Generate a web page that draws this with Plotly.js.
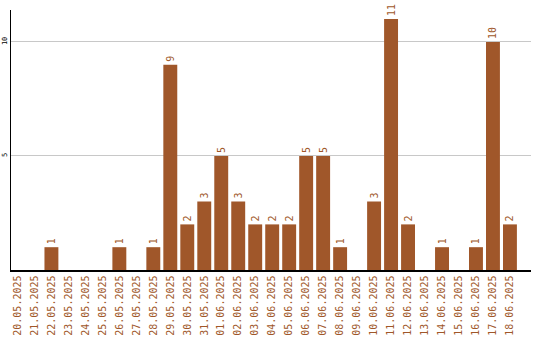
<!DOCTYPE html>
<html><head><meta charset="utf-8">
<script src="https://cdn.plot.ly/plotly-3.0.1.min.js"></script>
<style>html,body{margin:0;padding:0;background:#fff}#chart{width:540px;height:340px}</style>
</head><body><div id="chart"></div>
<script>
const dates = ["20.05.2025","21.05.2025","22.05.2025","23.05.2025","24.05.2025","25.05.2025","26.05.2025","27.05.2025","28.05.2025","29.05.2025","30.05.2025","31.05.2025","01.06.2025","02.06.2025","03.06.2025","04.06.2025","05.06.2025","06.06.2025","07.06.2025","08.06.2025","09.06.2025","10.06.2025","11.06.2025","12.06.2025","13.06.2025","14.06.2025","15.06.2025","16.06.2025","17.06.2025","18.06.2025"];
const counts = [0,0,1,0,0,0,1,0,1,9,2,3,5,3,2,2,2,5,5,1,0,3,11,2,0,1,0,1,10,2];
const yTicks = [5,10];
const color = "#a0572a";
const idx = dates.map((d,i)=>i);
Plotly.newPlot("chart",[{
  type:"bar", x:idx, y:counts,
  text: counts.map(v=>v>0?String(v):""),
  textposition:"outside", textangle:-90, cliponaxis:false,
  textfont:{family:"DejaVu Sans Mono", size:10, color:color},
  marker:{color:color}, hoverinfo:"none"
}],{
  width:540, height:340,
  margin:{l:11,r:9,t:10,b:70,pad:0},
  paper_bgcolor:"#fff", plot_bgcolor:"#fff",
  bargap:0.18, showlegend:false,
  font:{family:"DejaVu Sans Mono"},
  xaxis:{type:"linear", range:[-0.38,30.24], tickvals:idx, ticktext:dates, tickangle:-90,
    tickfont:{family:"DejaVu Sans Mono", size:10, color:color},
    showgrid:false, zeroline:false, showline:true, linecolor:"#000", linewidth:1.5, ticks:"", ticklen:0},
  yaxis:{range:[0,11.4], tickvals:yTicks, ticktext:yTicks.map(String), tickangle:-90,
    tickfont:{family:"DejaVu Sans Mono", size:7, color:"#000"},
    showgrid:true, gridcolor:"#c8c8c8", gridwidth:1, zeroline:false, showline:true, linecolor:"#000", linewidth:1.5, ticks:"", ticklen:0}
},{staticPlot:true});
</script></body></html>
